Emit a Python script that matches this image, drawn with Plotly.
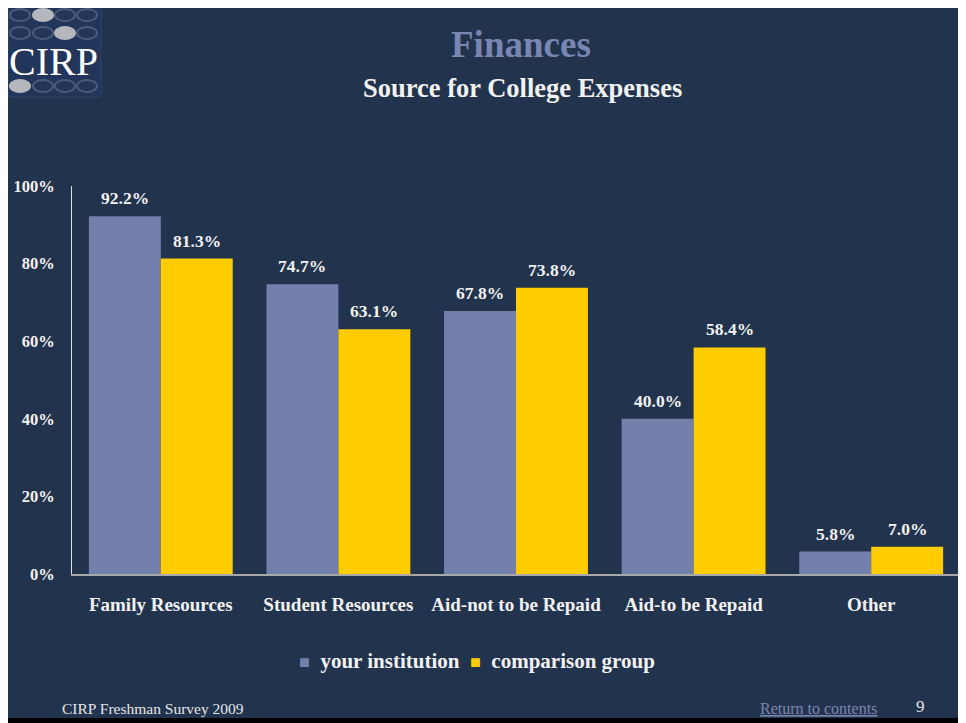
import plotly.graph_objects as go

categories = ["Family Resources", "Student Resources", "Aid-not to be Repaid", "Aid-to be Repaid", "Other"]
your_institution = [92.2, 74.7, 67.8, 40.0, 5.8]
comparison_group = [81.3, 63.1, 73.8, 58.4, 7.0]
y_ticks = [0, 20, 40, 60, 80, 100]
y_tick_labels = ["0%", "20%", "40%", "60%", "80%", "100%"]

W, H = 966, 723
OFF = 8  # page body margin in the viewer
L, R, T, B = 72 - OFF, 960 - OFF, 186 - OFF, 574 - OFF  # plot area in figure pixels

NAVY = "#22334D"
BLUE = "#7480AC"
YELLOW = "#FFCC00"
TXT = "#F2F2F2"
SERIF = "Liberation Serif"


def px(x):
    return (x - OFF - L) / (R - L)


def py(y):
    return (B - (y - OFF)) / (B - T)


fig = go.Figure()
fig.add_trace(go.Bar(x=categories, y=your_institution, name="your institution",
                     marker=dict(color=BLUE, line=dict(width=0))))
fig.add_trace(go.Bar(x=categories, y=comparison_group, name="comparison group",
                     marker=dict(color=YELLOW, line=dict(width=0))))

annotations = []
for series, shift in ((your_institution, -36), (comparison_group, 36)):
    for c, v in zip(categories, series):
        annotations.append(dict(x=c, y=v, xref="x", yref="y", text=f"{v:.1f}%",
                                showarrow=False, xshift=shift, yshift=18, yanchor="middle",
                                font=dict(family=SERIF, size=17.5, color=TXT, weight="bold")))

# titles
annotations.append(dict(x=px(521), y=py(44), xref="paper", yref="paper", text="<b>Finances</b>",
                        showarrow=False, xanchor="center", yanchor="middle",
                        font=dict(family=SERIF, size=37, color="#7A86B2")))
annotations.append(dict(x=px(522), y=py(88), xref="paper", yref="paper",
                        text="<b>Source for College Expenses</b>",
                        showarrow=False, xanchor="center", yanchor="middle",
                        font=dict(family=SERIF, size=26.5, color=TXT)))
# legend
annotations.append(dict(x=px(477), y=py(661), xref="paper", yref="paper",
                        text=f"<span style='color:{BLUE}; font-size:18px'>■</span>  <b>your institution</b>  "
                             f"<span style='color:{YELLOW}; font-size:18px'>■</span>  <b>comparison group</b>",
                        showarrow=False, xanchor="center", yanchor="middle",
                        font=dict(family=SERIF, size=21, color=TXT)))
# footer
annotations.append(dict(x=px(60), y=py(708), xref="paper", yref="paper", text="CIRP Freshman Survey 2009",
                        showarrow=False, xanchor="left", yanchor="middle",
                        font=dict(family=SERIF, size=15.5, color="#E6E6E6")))
annotations.append(dict(x=px(818), y=py(708), xref="paper", yref="paper", text="<u>Return to contents</u>",
                        showarrow=False, xanchor="center", yanchor="middle",
                        font=dict(family=SERIF, size=16, color="#7A86B2")))
annotations.append(dict(x=px(920), y=py(706), xref="paper", yref="paper", text="9",
                        showarrow=False, xanchor="center", yanchor="middle",
                        font=dict(family=SERIF, size=17, color="#E6E6E6")))
# logo text
annotations.append(dict(x=px(53), y=py(61), xref="paper", yref="paper", text="CIRP",
                        showarrow=False, xanchor="center", yanchor="middle",
                        font=dict(family=SERIF, size=40, color="#FFFFFF")))

shapes = [
    dict(type="rect", xref="paper", yref="paper", x0=px(7), x1=px(961), y0=py(718), y1=py(5),
         fillcolor=NAVY, line=dict(width=0), layer="below"),
    dict(type="rect", xref="paper", yref="paper", x0=px(8), x1=px(101), y0=py(97), y1=py(5),
         fillcolor="#22355A", line=dict(width=1, color="#2F4266"), layer="below"),
]
filled = {(0, 1), (1, 2), (3, 0)}
row_y = {0: 15, 1: 33, 3: 86}
col_x = [20, 43, 65, 87]
for r, yy in row_y.items():
    for ci, xx in enumerate(col_x):
        is_f = (r, ci) in filled
        shapes.append(dict(type="circle", xref="paper", yref="paper",
                           x0=px(xx - 10), x1=px(xx + 10), y0=py(yy + 6), y1=py(yy - 6),
                           fillcolor="#B4B8BC" if is_f else "rgba(0,0,0,0)",
                           line=dict(width=2, color="#B4B8BC" if is_f else "#4A5B7C")))

fig.update_layout(
    template="none",
    width=W, height=H, autosize=False,
    margin=dict(l=L, r=W - R, t=T, b=H - B, pad=0, autoexpand=False),
    paper_bgcolor="#000000", plot_bgcolor="rgba(0,0,0,0)",
    barmode="group", bargap=0.19, bargroupgap=0,
    showlegend=False,
    annotations=annotations, shapes=shapes,
    xaxis=dict(showline=True, linecolor="#A8A8A8", linewidth=2, showgrid=False, automargin=False,
               ticks="outside", ticklen=12, tickcolor="rgba(0,0,0,0)",
               tickfont=dict(family=SERIF, size=19, color=TXT, weight="bold"), fixedrange=True),
    yaxis=dict(range=[0, 100], tickvals=y_ticks, ticktext=y_tick_labels, automargin=False,
               showline=True, linecolor="#E0E0E0", linewidth=1, showgrid=False, zeroline=False,
               ticks="outside", ticklen=13, tickcolor="rgba(0,0,0,0)",
               tickfont=dict(family=SERIF, size=16.5, color=TXT, weight="bold"), fixedrange=True),
)

fig.write_html("out.html")
